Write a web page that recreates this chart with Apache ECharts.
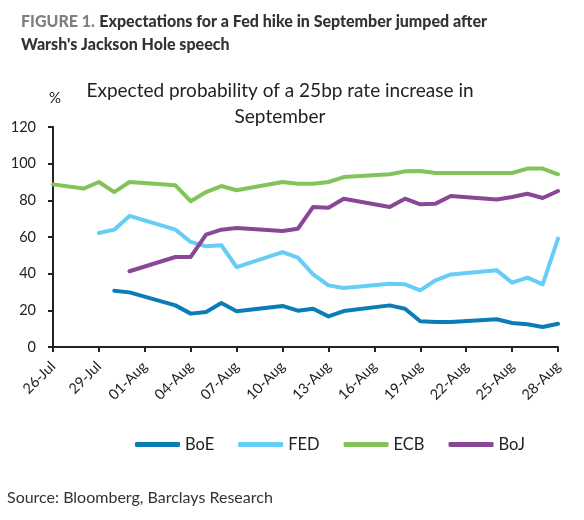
<!DOCTYPE html>
<html>
<head>
<meta charset="utf-8">
<script src="https://cdn.jsdelivr.net/npm/echarts@6/dist/echarts.min.js"></script>
<style>
  html, body { margin: 0; padding: 0; background: #fff; }
  #chart { width: 584px; height: 520px; }
</style>
</head>
<body>
<div id="chart"></div>
<script>
// calendar days on the axis, trading days carry values, gaps are null
var days = ['26-Jul', '27-Jul', '28-Jul', '29-Jul', '30-Jul', '31-Jul', '01-Aug', '02-Aug',
    '03-Aug', '04-Aug', '05-Aug', '06-Aug', '07-Aug', '08-Aug', '09-Aug', '10-Aug',
    '11-Aug', '12-Aug', '13-Aug', '14-Aug', '15-Aug', '16-Aug', '17-Aug', '18-Aug',
    '19-Aug', '20-Aug', '21-Aug', '22-Aug', '23-Aug', '24-Aug', '25-Aug', '26-Aug',
    '27-Aug', '28-Aug'];

var boe = [null, null, null, null, 30.7, 29.8, null, null,
    22.7, 18.2, 19.1, 24.0, 19.5, null, null, 22.4,
    19.8, 20.9, 16.7, 19.6, null, null, 22.7, 20.9,
    14.0, 13.6, 13.6, null, null, 15.1, 13.1, 12.4,
    10.9, 12.7];

var fed = [null, null, null, 62.2, 64.0, 71.5, null, null,
    64.0, 57.3, 54.9, 55.5, 43.6, null, null, 51.8,
    48.7, 39.6, 33.6, 32.2, null, null, 34.5, 34.2,
    30.9, 36.4, 39.6, null, null, 41.8, 35.1, 37.8,
    34.2, 59.1];

var ecb = [88.7, null, 86.4, 90.0, 84.5, 90.0, null, null,
    88.2, 79.5, 84.5, 87.8, 85.5, null, null, 90.0,
    89.1, 89.1, 90.0, 92.7, null, null, 94.2, 95.8,
    96.0, 94.9, 94.9, null, null, 94.9, 94.9, 97.3,
    97.3, 94.2];

var boj = [null, null, null, null, null, 41.3, null, null,
    49.1, 49.1, 61.3, 64.0, 64.9, null, null, 63.3,
    64.5, 76.4, 76.0, 80.9, null, null, 76.4, 80.9,
    77.8, 78.2, 82.4, null, null, 80.5, 81.8, 83.6,
    81.3, 85.1];

var names = ['BoE', 'FED', 'ECB', 'BoJ'];
var colors = ['#0b7db6', '#66cdf6', '#82c45a', '#8a4796'];
var values = [boe, fed, ecb, boj];

var font = 'Lato';
var ink = '#222';

var myChart = echarts.init(document.getElementById('chart'));

var series = [];
for (var i = 0; i < names.length; i++) {
    series.push({
        name: names[i],
        type: 'line',
        data: values[i],
        connectNulls: true,
        symbol: 'none',
        lineStyle: { width: 4, color: colors[i], cap: 'round', join: 'round' },
        itemStyle: { color: colors[i] }
    });
}

var option = {
    animation: false,
    textStyle: { fontFamily: font },
    title: [{
        // figure heading, two lines
        left: 16,
        top: 5,
        text: '{g|FIGURE 1.} {b|Expectations for a Fed hike in September jumped after}\n{b|Warsh\'s Jackson Hole speech}',
        textStyle: {
            rich: {
                g: { fontFamily: font, fontWeight: 900, fontSize: 16, color: '#808080', lineHeight: 23 },
                b: { fontFamily: font, fontWeight: 900, fontSize: 16, color: '#333', lineHeight: 23 }
            }
        }
    }, {
        left: 275,
        top: 73,
        textAlign: 'center',
        text: 'Expected probability of a 25bp rate increase in\nSeptember',
        textStyle: { fontFamily: font, fontWeight: 'normal', fontSize: 19, color: ink, lineHeight: 26, align: 'center' }
    }],
    legend: {
        left: 130,
        top: 431,
        data: names,
        icon: 'roundRect',
        itemWidth: 45,
        itemHeight: 5,
        itemGap: 24,
        textStyle: { fontFamily: font, fontSize: 16.5, color: ink }
    },
    grid: {
        left: 53,
        right: 26,
        top: 127,
        bottom: 173
    },
    xAxis: {
        type: 'category',
        data: days,
        boundaryGap: false,
        axisLine: { lineStyle: { color: ink, width: 2 } },
        axisTick: { interval: 2, length: 5, lineStyle: { color: ink, width: 2 } },
        axisLabel: { interval: 2, rotate: 45, margin: 17, fontSize: 14.5, color: ink, fontFamily: font },
        splitLine: { show: false }
    },
    yAxis: {
        type: 'value',
        min: 0,
        max: 120,
        interval: 20,
        name: '%',
        nameGap: 21,
        nameTextStyle: { fontFamily: font, fontSize: 15, color: ink, align: 'center', padding: [0, 0, 0, 4] },
        axisLine: { show: true, lineStyle: { color: ink, width: 2 } },
        axisTick: { show: true, length: 5, lineStyle: { color: ink, width: 2 } },
        axisLabel: { margin: 17, fontSize: 14.5, color: ink, fontFamily: font },
        splitLine: { show: false }
    },
    graphic: [{
        type: 'text',
        left: 7,
        top: 490,
        style: {
            text: 'Source: Bloomberg, Barclays Research',
            fontFamily: font,
            fontSize: 16,
            fill: '#333'
        }
    }],
    series: series
};

myChart.setOption(option);
</script>
</body>
</html>
